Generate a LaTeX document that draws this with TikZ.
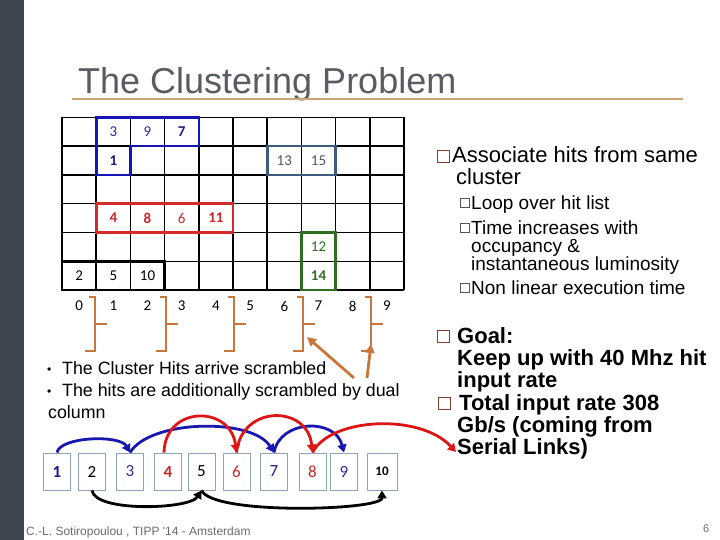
\documentclass[tikz,border=0pt]{standalone}
\usepackage{fontspec}
\setmainfont{Liberation Sans}
\newfontfamily\calfont{Carlito}
\usetikzlibrary{arrows.meta}
\definecolor{barcol}{HTML}{3F4550}
\definecolor{titlecol}{HTML}{595C62}
\definecolor{rulecol}{HTML}{C8A56E}
\definecolor{bluetxt}{HTML}{2E2E9C}
\definecolor{navytxt}{HTML}{1C1C80}
\definecolor{bluebox}{HTML}{1414B8}
\definecolor{redtxt}{HTML}{C8282A}
\definecolor{redbox}{HTML}{D42A2A}
\definecolor{greencol}{HTML}{2F6E22}
\definecolor{slatebox}{HTML}{3E5B7E}
\definecolor{graytxt}{HTML}{555555}
\definecolor{orangecol}{HTML}{C8763A}
\definecolor{boxedge}{HTML}{8EA3B6}
\definecolor{bluearr}{HTML}{1818B0}
\definecolor{redarr}{HTML}{DD1515}
\definecolor{footcol}{HTML}{6B6B6B}
\definecolor{bulletred}{HTML}{8B3A2A}
\tikzset{
  gridline/.style={line width=1.5pt, black},
  clusterbox/.style={line width=2.6pt},
  gnum/.style={font=\calfont\fontsize{15}{15}\selectfont, inner sep=0pt},
  colnum/.style={font=\calfont\fontsize{15}{15}\selectfont, inner sep=0pt, black},
  bracketline/.style={line width=2.6pt, orangecol},
  hitbox/.style={draw=boxedge, line width=0.9pt, fill=white, minimum width=27pt, minimum height=37pt, inner sep=0pt, font=\calfont\fontsize{17}{17}\selectfont},
  arr/.style={line width=2.8pt, -{Triangle[length=8pt,width=9pt]}},
  bigtxt/.style={anchor=base west, inner sep=0pt, font=\fontsize{22}{22}\selectfont},
  boldtxt/.style={anchor=base west, inner sep=0pt, font=\bfseries\fontsize{22}{22}\selectfont},
  subtxt/.style={anchor=base west, inner sep=0pt, font=\fontsize{19}{19}\selectfont},
  lefttxt/.style={anchor=base west, inner sep=0pt, font=\fontsize{17.8}{17.8}\selectfont},
  mainsq/.style={draw=bulletred, line width=0.8pt, minimum size=12pt, inner sep=0pt},
  subsq/.style={draw=graytxt, line width=0.7pt, minimum size=8.5pt, inner sep=0pt},
}
\begin{document}
\begin{tikzpicture}[x=1pt,y=-1pt]
\useasboundingbox (0,0) rectangle (720,540);
\fill[white] (0,0) rectangle (720,540);
\fill[barcol] (0,0) rectangle (24,540);
% title
\node[anchor=base west, inner sep=0pt, text=titlecol, font=\fontsize{36}{36}\selectfont] (title) at (78,94) {The Clustering Problem};
\draw[rulecol, line width=1.4pt] (72,99) -- (683,99);
% grid
\foreach \i in {0,...,10} \draw[gridline] ({62+34.2*\i},117.3) -- ({62+34.2*\i},290.1);
\foreach \j in {0,...,6} \draw[gridline] (62,{117.3+28.8*\j}) -- (404,{117.3+28.8*\j});
% cluster boxes
\draw[clusterbox, bluebox] (96.2,117.3) -- (198.8,117.3) -- (198.8,146.1) -- (130.4,146.1) -- (130.4,174.9) -- (96.2,174.9) -- cycle;
\draw[clusterbox, slatebox] (267.2,146.1) rectangle (335.6,174.9);
\draw[clusterbox, redbox] (96.2,203.7) rectangle (233,232.5);
\draw[clusterbox, greencol] (301.4,232.5) rectangle (335.6,290.1);
\draw[clusterbox, black] (62,261.3) rectangle (164.6,290.1);
% numbers in grid
\node[gnum, text=bluetxt] (g3) at (113.3,131.7) {3};
\node[gnum, text=bluetxt] (g9) at (147.5,131.7) {9};
\node[gnum, text=navytxt, font=\calfont\bfseries\fontsize{15}{15}\selectfont] (g7) at (181.7,131.7) {7};
\node[gnum, text=navytxt, font=\calfont\bfseries\fontsize{15}{15}\selectfont] (g1) at (113.3,160.5) {1};
\node[gnum, text=graytxt] (g13) at (284.3,160.5) {13};
\node[gnum, text=graytxt] (g15) at (318.5,160.5) {15};
\node[gnum, text=redtxt, font=\calfont\bfseries\fontsize{15}{15}\selectfont] (g4) at (113.3,218.1) {4};
\node[gnum, text=redtxt, font=\calfont\bfseries\fontsize{15}{15}\selectfont] (g8) at (147.5,218.1) {8};
\node[gnum, text=redtxt] (g6) at (181.7,218.1) {6};
\node[gnum, text=redtxt, font=\calfont\bfseries\fontsize{15}{15}\selectfont] (g11) at (215.9,218.1) {11};
\node[gnum, text=greencol] (g12) at (318.5,246.9) {12};
\node[gnum, text=greencol, font=\calfont\bfseries\fontsize{15}{15}\selectfont] (g14) at (318.5,275.7) {14};
\node[gnum, text=black] (g2) at (79.1,275.7) {2};
\node[gnum, text=black] (g5) at (113.3,275.7) {5};
\node[gnum, text=black] (g10) at (147.5,275.7) {10};
% column labels
\foreach \c in {0,...,9} \node[colnum] (c\c) at ({79.1+34.2*\c},306) {\c};
% brackets
\foreach \X in {95,166,234,303,371} {
  \draw[bracketline] ({\X-6},297) -- (\X,297) -- (\X,351) -- ({\X-10},351);
  \draw[bracketline] (\X,324) -- ({\X+12},324);
}
\coordinate (brA) at (307,337);
\coordinate (brB) at (371,344);
\coordinate (oa) at (354,378);
\coordinate (ob) at (367,378);
\draw[orangecol, line width=2.8pt, -{Triangle[length=9pt,width=9pt]}] (oa) -- (brA);
\draw[orangecol, line width=2.8pt, -{Triangle[length=9pt,width=9pt]}] (ob) -- (brB);
% left text
\node[lefttxt, font=\fontsize{12}{12}\selectfont] (bul1) at (47,373) {•};
\node[lefttxt] (t1) at (62,374) {The Cluster Hits arrive scrambled};
\node[lefttxt, font=\fontsize{12}{12}\selectfont] (bul2) at (47,395) {•};
\node[lefttxt] (t2) at (62,396) {The hits are additionally scrambled by dual};
\node[lefttxt] (t3) at (48,418) {column};
% hit boxes
\node[hitbox, text=navytxt, font=\calfont\bfseries\fontsize{17}{17}\selectfont] (b1) at (57,471.5) {1};
\node[hitbox, text=black] (b2) at (92,471.5) {2};
\node[hitbox, text=bluetxt] (b3) at (130,471.5) {3};
\node[hitbox, text=redtxt, font=\calfont\bfseries\fontsize{17}{17}\selectfont] (b4) at (168,471.5) {4};
\node[hitbox, text=black] (b5) at (201.5,471.5) {5};
\node[hitbox, text=redtxt] (b6) at (236.5,471.5) {6};
\node[hitbox, text=navytxt] (b7) at (274,471.5) {7};
\node[hitbox, text=redtxt] (b8) at (312.5,471.5) {8};
\node[hitbox, text=bluetxt] (b9) at (344,471.5) {9};
\node[hitbox, text=black, minimum width=30pt, font=\calfont\bfseries\fontsize{13}{13}\selectfont] (b10) at (382,471.5) {10};
% blue arrows
\draw[arr, bluearr] (b1.north) .. controls +(3,-16) and +(-10,-18) .. (b3.north);
\draw[arr, bluearr] (b3.north) .. controls +(20,-33) and +(-22,-35) .. (b7.north);
\draw[arr, bluearr] (b7.north) .. controls +(6,-33) and +(-9,-35) .. (b9.north);
% red arrows
\coordinate (serial) at (456,452);
\draw[arr, redarr] ([xshift=-4pt]b4.north) .. controls +(1,-47) and +(-6,-48) .. (b6.north);
\draw[arr, redarr] (b6.north) .. controls +(5,-48) and +(-5,-48) .. (b8.north);
\draw[arr, redarr] (b8.north) .. controls +(18,-35) and (420,413) .. (serial);
% black arrows
\draw[arr, black] (b2.south) .. controls +(3,22) and +(-12,19) .. (b5.south);
\draw[arr, black] (b5.south) .. controls +(12,25) and +(0,20) .. (b10.south);
% right text
\node[mainsq] (sq1) at (443,156) {};
\node[bigtxt] (r1) at (452,163) {Associate hits from same};
\node[bigtxt] (r2) at (456,185) {cluster};
\node[subsq] (sq2) at (465,203) {};
\node[subtxt] (s1) at (471,209.5) {Loop over hit list};
\node[subsq] (sq3) at (465,228) {};
\node[subtxt] (s2) at (471,234.5) {Time increases with};
\node[subtxt] (s3) at (471,252) {occupancy \&};
\node[subtxt] (s4) at (471,270) {instantaneous luminosity};
\node[subsq] (sq4) at (465,288) {};
\node[subtxt] (s5) at (471,294.5) {Non linear execution time};
\node[mainsq] (sq5) at (443,336) {};
\node[boldtxt] (k1) at (457,343) {Goal:};
\node[boldtxt] (k2) at (457,365) {Keep up with 40 Mhz hit};
\node[boldtxt] (k3) at (457,387) {input rate};
\node[mainsq] (sq6) at (444,403) {};
\node[boldtxt] (k4) at (459,410) {Total input rate 308};
\node[boldtxt] (k5) at (457,432) {Gb/s (coming from};
\node[boldtxt] (k6) at (457,454) {Serial Links)};
% footer
\node[anchor=base west, inner sep=0pt, text=footcol, font=\fontsize{12}{12}\selectfont] (foot) at (26,535) {C.-L. Sotiropoulou , TIPP \textquotesingle14 - Amsterdam};
\node[anchor=base west, inner sep=0pt, text=footcol, font=\fontsize{11}{11}\selectfont] (pg) at (703,532) {6};
\end{tikzpicture}
\end{document}
